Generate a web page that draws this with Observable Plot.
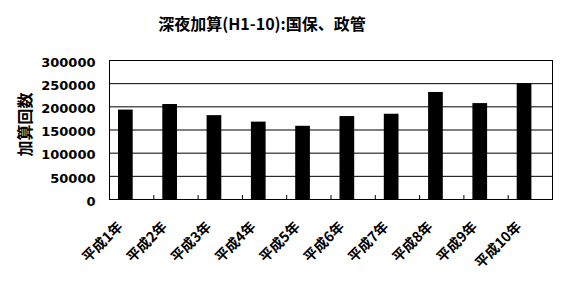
<!DOCTYPE html>
<html>
<head>
<meta charset="utf-8">
<script src="https://cdn.jsdelivr.net/npm/d3@7"></script>
<script src="https://cdn.jsdelivr.net/npm/@observablehq/plot@0.6"></script>
<style>
  html, body { margin: 0; padding: 0; background: #fff; }
  #title { width: 564px; height: 40px; box-sizing: border-box; padding: 13px 40px 0 0; line-height: 20px;
    text-align: center; font-family: "Noto Sans CJK JP", sans-serif; font-size: 16px; font-weight: bold; color: #000; }
  svg { display: block; }
</style>
</head>
<body>
<div id="title">深夜加算(H1-10):国保、政管</div>
<div id="chart"></div>
<script>
const years = ["平成1年", "平成2年", "平成3年", "平成4年", "平成5年", "平成6年", "平成7年", "平成8年", "平成9年", "平成10年"];
const values = [193000, 205000, 181000, 167000, 158000, 179000, 184000, 231000, 207000, 250000];
const yTicks = [0, 50000, 100000, 150000, 200000, 250000, 300000];
const yLabel = "加算回数";

const data = years.map((y, i) => ({year: y, value: values[i]}));

const W = 564, H = 254, mL = 109, mR = 12, mT = 20, mB = 95;
const step = (W - mL - mR) / years.length;
const plotH = H - mT - mB;

const chart = Plot.plot({
  width: W, height: H,
  marginLeft: mL, marginRight: mR, marginTop: mT, marginBottom: mB,
  style: {fontFamily: "DejaVu Sans, sans-serif", fontSize: "13px", fontWeight: "bold", color: "#000", background: "#fff"},
  x: {type: "band", domain: years, padding: 0, round: false, axis: null},
  y: {domain: [0, 300000], axis: null},
  marks: [
    Plot.ruleY(yTicks, {stroke: "black", strokeOpacity: 1}),
    Plot.barY(data, {x: "year", y: "value", fill: "black", insetLeft: 9, insetRight: step - 9 - 14.7}),
    Plot.tickX(years.slice(1), {x: d => d, dx: -step / 2, insetTop: plotH - 4, stroke: "black"}),
    Plot.frame({stroke: "black"}),
    Plot.axisY(yTicks, {tickSize: 0, tickPadding: 14, tickFormat: d => String(d), label: null, dy: 2,
      fontFamily: "DejaVu Sans", fontSize: 13, fontWeight: "bold", fill: "black"}),
    Plot.text(years, {x: d => d, text: d => d, frameAnchor: "bottom", rotate: -45, textAnchor: "end",
      lineAnchor: "bottom", dx: -8, dy: 28, fontFamily: "Noto Sans CJK JP", fontSize: 14, fontWeight: "bold", fill: "black"}),
    Plot.text([yLabel], {text: d => d, frameAnchor: "left", rotate: -90, dx: -83.5, dy: -5.5, textAnchor: "middle",
      lineAnchor: "middle", fontFamily: "Noto Sans CJK JP", fontSize: 16, fontWeight: "bold", fill: "black"})
  ]
});
document.getElementById("chart").appendChild(chart);
</script>
</body>
</html>
